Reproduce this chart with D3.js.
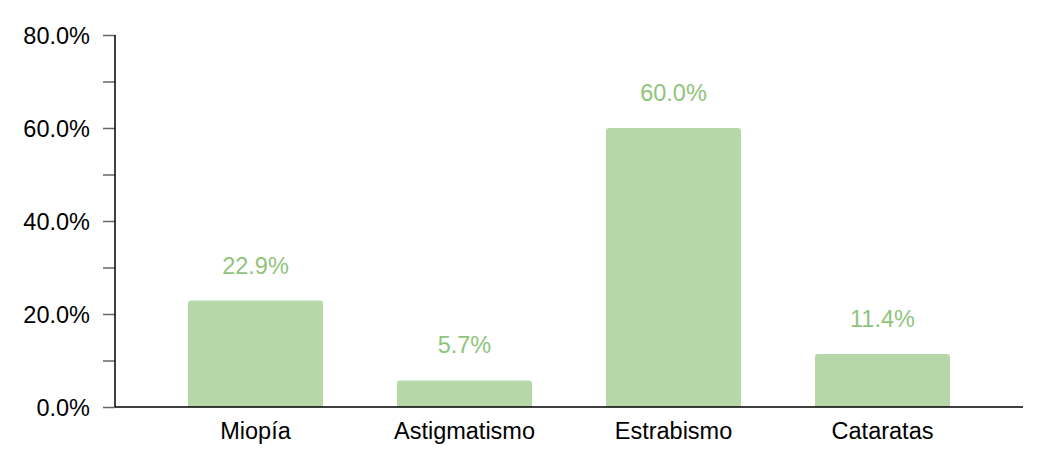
<!DOCTYPE html>
<html><head><meta charset="utf-8">
<script src="https://cdn.jsdelivr.net/npm/d3@7"></script>
<style>body{margin:0;background:#fff}text{font-family:"Liberation Sans",Arial,sans-serif}</style>
</head><body><svg id="c" width="1046" height="466"></svg>
<script>
const categories = ["Miopía","Astigmatismo","Estrabismo","Cataratas"];
const values = [22.9, 5.7, 60.0, 11.4];
const valueLabels = ["22.9%","5.7%","60.0%","11.4%"];
const yTicks = [0,20,40,60,80];
const yMinorTicks = [10,30,50,70];

const svg = d3.select("#c");
const y = d3.scaleLinear().domain([0,80]).range([407,35]);
const x = d3.scaleBand().domain(categories).range([151,987]).paddingInner(0.354).paddingOuter(0.177);
const axisLeftX = 115, axisRightX = 1023;

// y ticks
const yAxis = d3.axisLeft(y).tickValues(yTicks.concat(yMinorTicks)).tickSize(12).tickPadding(13)
  .tickFormat(d => yTicks.includes(d) ? d.toFixed(1)+"%" : "");
const gy = svg.append("g").attr("transform",`translate(${axisLeftX},0)`).call(yAxis);
gy.select(".domain").remove();
gy.selectAll(".tick line").attr("stroke","#666").attr("stroke-width",1.5);
gy.selectAll(".tick text").attr("fill","#000").style("font-size","23.5px").attr("dy","0.35em");
svg.append("line").attr("x1",axisLeftX).attr("x2",axisLeftX).attr("y1",y(80)).attr("y2",y(0))
  .attr("stroke","#000").attr("stroke-width",1.5);

// bars
const r = 3;
svg.append("g").selectAll("path").data(values).join("path")
  .attr("fill","#b6d7a8")
  .attr("d",(d,i)=>{
    const x0 = x(categories[i]), w = x.bandwidth(), yt = y(d), yb = y(0);
    return `M${x0},${yb}V${yt+r}Q${x0},${yt} ${x0+r},${yt}H${x0+w-r}Q${x0+w},${yt} ${x0+w},${yt+r}V${yb}Z`;
  });

// value labels
svg.append("g").selectAll("text").data(values).join("text")
  .attr("x",(d,i)=>x(categories[i])+x.bandwidth()/2)
  .attr("y",d=>y(d)-27)
  .attr("text-anchor","middle").attr("fill","#8fc47b").style("font-size","23.5px")
  .text((d,i)=>valueLabels[i]);

// x axis
const gx = svg.append("g").attr("transform",`translate(0,${y(0)})`)
  .call(d3.axisBottom(x).tickSize(0).tickPadding(15));
gx.select(".domain").remove();
gx.selectAll(".tick text").attr("fill","#000").style("font-size","23.5px").attr("dy","0.71em");
svg.append("line").attr("x1",axisLeftX).attr("x2",axisRightX).attr("y1",y(0)).attr("y2",y(0))
  .attr("stroke","#000").attr("stroke-width",1.5);
</script></body></html>
